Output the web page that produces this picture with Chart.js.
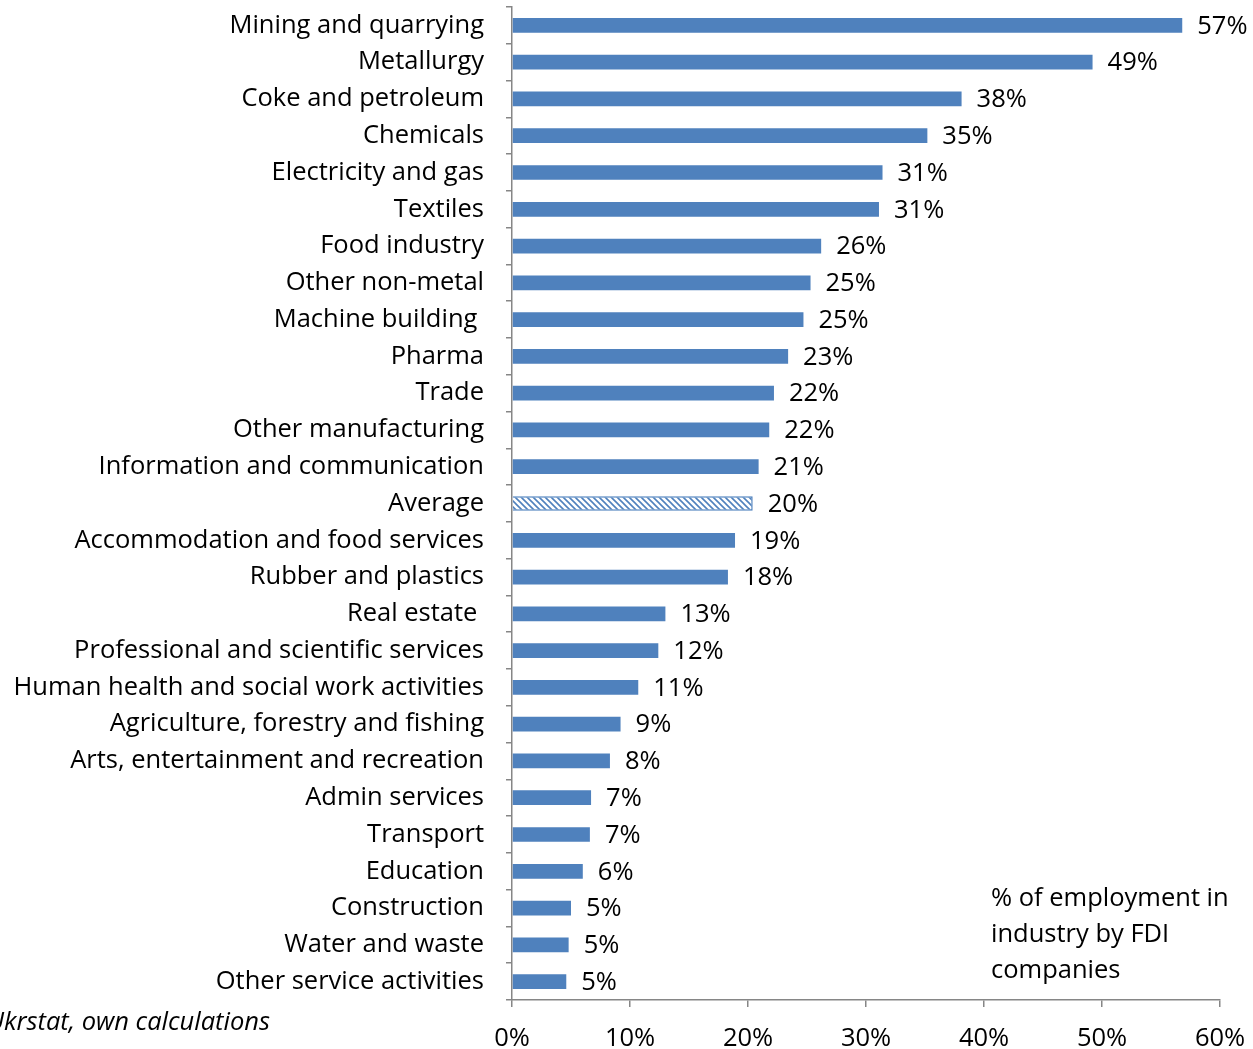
<!DOCTYPE html>
<html>
<head>
<meta charset="utf-8">
<script src="https://cdn.jsdelivr.net/npm/chart.js@4.4.1/dist/chart.umd.min.js"></script>
<style>
  html, body { margin: 0; padding: 0; background: #fff; }
  #wrap { width: 1253px; height: 1049px; }
</style>
</head>
<body>
<div id="wrap"><canvas id="fdiChart" width="1253" height="1049"></canvas></div>
<script>
// Share of employment in FDI companies by industry, %
const industries = [
  'Mining and quarrying', 'Metallurgy', 'Coke and petroleum', 'Chemicals',
  'Electricity and gas', 'Textiles', 'Food industry', 'Other non-metal',
  'Machine building ', 'Pharma', 'Trade', 'Other manufacturing',
  'Information and communication', 'Average', 'Accommodation and food services',
  'Rubber and plastics', 'Real estate ', 'Professional and scientific services',
  'Human health and social work activities', 'Agriculture, forestry and fishing',
  'Arts, entertainment and recreation', 'Admin services', 'Transport',
  'Education', 'Construction', 'Water and waste', 'Other service activities'
];
const fdiShare = [
  56.8, 49.2, 38.1, 35.2, 31.4, 31.1, 26.2, 25.3, 24.7, 23.4, 22.2, 21.8,
  20.9, 20.4, 18.9, 18.3, 13.0, 12.4, 10.7, 9.2, 8.3, 6.7, 6.6, 6.0,
  5.0, 4.8, 4.6
];
const xTicks = [0, 10, 20, 30, 40, 50, 60];
const noteLines = ['% of employment in', 'industry by FDI', 'companies'];
const sourceText = 'Source: Ukrstat, own calculations';

const BLUE = '#4F81BD';
const AXIS = '#868686';
const FONT = '"Open Sans", sans-serif';
const SIZE = 25.5;

// diagonal hatch for the "Average" bar
function hatchPattern() {
  const c = document.createElement('canvas');
  c.width = 6; c.height = 6;
  const g = c.getContext('2d');
  g.fillStyle = '#fff';
  g.fillRect(0, 0, 6, 6);
  g.strokeStyle = BLUE;
  g.lineWidth = 1.6;
  g.beginPath();
  g.moveTo(0, 0); g.lineTo(6, 6);
  g.moveTo(-3, 3); g.lineTo(3, 9);
  g.moveTo(3, -3); g.lineTo(9, 3);
  g.stroke();
  return g.createPattern(c, 'repeat');
}

const hatch = hatchPattern();
const fills = industries.map(n => n === 'Average' ? hatch : BLUE);

// value labels next to the bars, plus the note and source text
const extras = {
  id: 'extras',
  afterDatasetsDraw(chart) {
    const ctx = chart.ctx;
    const meta = chart.getDatasetMeta(0);
    ctx.save();
    ctx.fillStyle = '#000';
    ctx.font = SIZE + 'px ' + FONT;
    ctx.textAlign = 'left';
    ctx.textBaseline = 'middle';
    meta.data.forEach((bar, i) => {
      ctx.fillText(Math.round(fdiShare[i]) + '%', bar.x + 15, bar.y + 1);
    });
    noteLines.forEach((t, i) => ctx.fillText(t, 991, 899 + i * 36));
    ctx.font = 'italic ' + SIZE + 'px ' + FONT;
    ctx.textAlign = 'right';
    ctx.fillText(sourceText, 270, 1023);
    ctx.restore();
  }
};

new Chart(document.getElementById('fdiChart'), {
  type: 'bar',
  data: {
    labels: industries,
    datasets: [{
      data: fdiShare,
      backgroundColor: fills,
      borderColor: BLUE,
      borderWidth: industries.map(n => n === 'Average' ? 1.5 : 0),
      barPercentage: 0.4,
      categoryPercentage: 1
    }]
  },
  options: {
    indexAxis: 'y',
    responsive: false,
    animation: false,
    layout: { padding: { top: 7, right: 33, left: 0, bottom: 0 } },
    plugins: { legend: { display: false }, tooltip: { enabled: false } },
    scales: {
      x: {
        min: 0,
        max: 60,
        afterBuildTicks: s => { s.ticks = xTicks.map(v => ({ value: v })); },
        afterFit: s => { s.height = 49; s.paddingLeft = 0; s.paddingRight = 0; },
        border: { color: AXIS, width: 1.5 },
        grid: { drawOnChartArea: false, color: AXIS, tickLength: 7, lineWidth: 1.5 },
        ticks: {
          color: '#000',
          font: { family: FONT, size: SIZE },
          padding: 16,
          maxRotation: 0,
          callback: v => v + '%'
        }
      },
      y: {
        afterFit: s => { s.width = 512; s.paddingTop = 0; s.paddingBottom = 0; },
        border: { color: AXIS, width: 1.5 },
        grid: { drawOnChartArea: false, color: AXIS, tickLength: 6, lineWidth: 1.5, offset: true },
        ticks: {
          color: '#000',
          font: { family: FONT, size: SIZE },
          padding: 22,
          autoSkip: false
        }
      }
    }
  },
  plugins: [extras]
});
</script>
</body>
</html>
